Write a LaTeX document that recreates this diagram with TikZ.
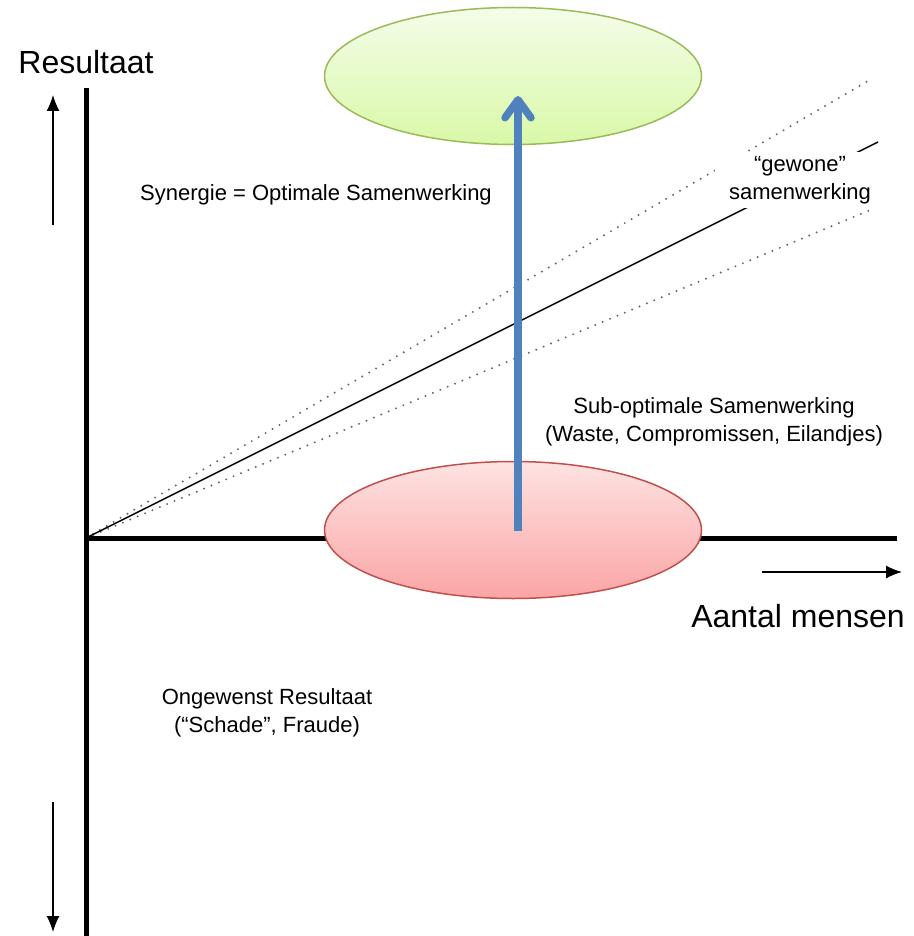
\documentclass[tikz,border=0pt]{standalone}
\usepackage{fontspec}
\setmainfont{Liberation Sans}
\usetikzlibrary{shapes.geometric,arrows.meta}

\definecolor{goalline}{HTML}{9BBB59}
\definecolor{goaltop}{HTML}{F4FDE9}
\definecolor{goalbottom}{HTML}{D9F8A8}
\definecolor{startline}{HTML}{C0504D}
\definecolor{starttop}{HTML}{FEE2E2}
\definecolor{startbottom}{HTML}{FAA5A5}
\definecolor{jumpblue}{HTML}{4F81BD}

\begin{document}
\begin{tikzpicture}[x=1pt, y=-1pt,
        axis/.style = {line width=5pt},
        hint/.style = {line width=1.3pt, -{Latex[length=16pt, width=13pt]}},
        band/.style = {black!60, line width=2.2pt, line cap=round, dash pattern=on 0pt off 8pt},
        blob/.style = {draw, ellipse, line width=1.5pt, minimum width=377pt, minimum height=137pt, inner sep=0pt},
        txt/.style = {font=\fontsize{22}{28}\selectfont, align=center},
        big/.style = {font=\fontsize{32}{38}\selectfont}]
    \useasboundingbox (0,0) rectangle (913,936);

    \coordinate (o) at (86,538);
    \coordinate (ytop) at (86,88);
    \coordinate (ybot) at (86,936);
    \coordinate (xend) at (897,538);

    % lines from the origin
    \coordinate (hi) at (873,78);
    \coordinate (mid) at (878,142);
    \coordinate (lo) at (875,208);
    \draw[band] (o) -- (hi);
    \draw[band] (o) -- (lo);
    \draw[line width=1.4pt] (o) -- (mid);

    \draw[axis] (ybot) -- (ytop);
    \draw[axis] (o) -- (xend);

    \node[blob, draw=goalline, top color=goaltop, bottom color=goalbottom] (goal) at (513,76) {};
    \node[blob, draw=startline, top color=starttop, bottom color=startbottom] (start) at (513,530) {};

    \coordinate (from) at (518,531);
    \coordinate (to) at (518,96);
    \draw[jumpblue, line width=7.5pt, -{Straight Barb[length=18pt, width=26pt, round]}] (from) -- (to);

    % direction hints
    \coordinate (u1) at (53,225);
    \coordinate (u2) at (53,95);
    \coordinate (d1) at (53,802);
    \coordinate (d2) at (53,932);
    \coordinate (r1) at (762,572);
    \coordinate (r2) at (902,572);
    \draw[hint] (u1) -- (u2);
    \draw[hint] (d1) -- (d2);
    \draw[hint] (r1) -- (r2);

    \node[big, anchor=base] (yname) at (86,74) {Resultaat};
    \node[big, anchor=base] (xname) at (798,627) {Aantal mensen};

    \node[txt] (synergy) at (316,195) {Synergie = Optimale Samenwerking};
    \node[txt, fill=white, inner xsep=14pt, inner ysep=4pt] (usual) at (800,180) {“gewone"\\samenwerking};
    \node[txt] (suboptimal) at (714,422) {Sub-optimale Samenwerking\\(Waste, Compromissen, Eilandjes)};
    \node[txt] (unwanted) at (267,713) {Ongewenst Resultaat\\(“Schade”, Fraude)};

\end{tikzpicture}
\end{document}
